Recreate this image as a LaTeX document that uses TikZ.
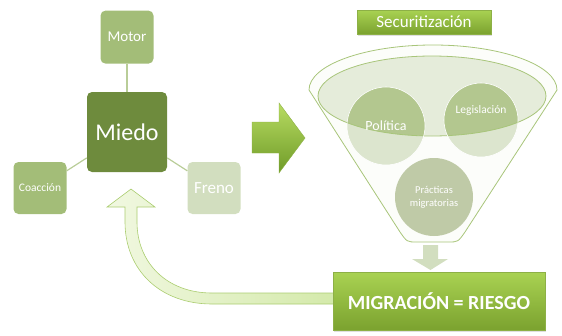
\documentclass[tikz,border=0pt]{standalone}
\usepackage{fontspec}
\setmainfont{Carlito}
\usepackage{tikz}
\usetikzlibrary{positioning,shadows}
\definecolor{oscuro}{HTML}{6E8B3D}
\definecolor{medio}{HTML}{A3BD78}
\definecolor{palido}{HTML}{D2DEBF}
\definecolor{enlace}{HTML}{B9CD98}
\definecolor{titsup}{HTML}{A9D252}
\definecolor{titinf}{HTML}{7BA22F}
\definecolor{titborde}{HTML}{8DB046}
\definecolor{embudo}{HTML}{FCFDFA}
\definecolor{borde}{HTML}{A8C57A}
\definecolor{circclaro}{HTML}{DCE5CE}
\definecolor{circoscuro}{HTML}{B3C78F}
\definecolor{elipse}{HTML}{E5ECDA}
\definecolor{practicas}{HTML}{BFCAA7}
\definecolor{flechasup}{HTML}{B8DC62}
\definecolor{flechainf}{HTML}{6F9B28}
\definecolor{curvaizq}{HTML}{F1F8E1}
\definecolor{curvader}{HTML}{D3E9A9}
\definecolor{curvaborde}{HTML}{ABCD70}

\begin{document}
\begin{tikzpicture}[x=1pt,y=-1pt,
    caja/.style={rectangle, rounded corners=5pt, text=white, align=center,
                 inner sep=2pt},
    enlace/.style={draw=enlace, line width=1.2pt},
    circulo/.style={circle, minimum size=78pt, text=white, align=center,
                    inner sep=0pt, draw=white, line width=0.6pt},
    titulo/.style={rectangle, top color=titsup, bottom color=titinf,
                   draw=titborde, text=white,
                   drop shadow={opacity=0.25, shadow xshift=1pt, shadow yshift=-1.5pt}},
]
\useasboundingbox (0,0) rectangle (562,335);

\node[caja, fill=oscuro, minimum size=80pt, font=\fontsize{24}{28}\selectfont] (miedo) at (127,132) {Miedo};
\node[caja, fill=medio, minimum size=53pt, font=\fontsize{15}{18}\selectfont, above=28pt of miedo] (motor) {Motor};
\node[caja, fill=medio, minimum width=53pt, minimum height=52pt, font=\fontsize{11.5}{14}\selectfont] (coaccion) at (40,188) {Coacción};
\node[caja, fill=palido, minimum width=53pt, minimum height=52pt, font=\fontsize{17}{20}\selectfont] (freno) at (214,188) {Freno};
\draw[enlace] (motor) -- (miedo);
\draw[enlace] (coaccion) -- (miedo);
\draw[enlace] (freno) -- (miedo);

\shade[top color=flechasup, bottom color=flechainf, draw=titborde, line width=0.4pt]
  (252,122) -- (279,122) -- (279,103) -- (305,138) -- (279,173) -- (279,153) -- (252,153) -- cycle;

\node[titulo, minimum width=134pt, minimum height=24pt, font=\fontsize{17}{20}\selectfont] (secu) at (424,22) {Securitización};

\filldraw[fill=embudo, draw=borde, line width=0.8pt]
  (309,90) arc[start angle=180, end angle=360, x radius=124, y radius=45]
  -- (465,232) .. controls (458,242) .. (448,242) -- (417,242)
  .. controls (407,242) .. (400,232) -- cycle;

\coordinate (cpol) at (386,126);
\coordinate (cleg) at (481,120);
\fill[elipse] (432,96) ellipse[x radius=114, y radius=40];
\fill[circclaro] (cpol) circle (39) (cleg) circle (37);
\begin{scope}
  \clip (432,96) ellipse[x radius=114, y radius=40];
  \fill[circoscuro] (cpol) circle (39) (cleg) circle (37);
\end{scope}
\draw[borde, line width=0.8pt] (432,96) ellipse[x radius=114, y radius=40];

\node[circulo, font=\fontsize{14}{16}\selectfont] (politica) at (cpol) {Política};
\node[circulo, minimum size=74pt, font=\fontsize{11.5}{14}\selectfont] (legislacion) at (cleg) {Legislación\\[6pt]};
\node[circulo, fill=practicas, draw=none, font=\fontsize{10.5}{13}\selectfont] (practicas) at (434,197) {Prácticas\\migratorias};

\fill[palido] (423,245) -- (438,245) -- (438,259) -- (448,259) -- (430.5,270) -- (412,259) -- (423,259) -- cycle;

\coordinate (punta) at (131,189);
\shade[left color=curvaizq, right color=curvader, draw=curvaborde, line width=0.6pt]
  (340,293) -- (212,293) .. controls (166,293) and (137,262) .. (137,222)
  -- (137,207) -- (155,207) -- (punta) -- (107,207) -- (125,207) -- (125,222)
  .. controls (125,270) and (160,304) .. (212,304) -- (340,304) -- cycle;

\node[titulo, minimum width=212pt, minimum height=58pt, font=\bfseries\fontsize{20}{24}\selectfont] (riesgo) at (439,301) {MIGRACIÓN = RIESGO};
\end{tikzpicture}
\end{document}
